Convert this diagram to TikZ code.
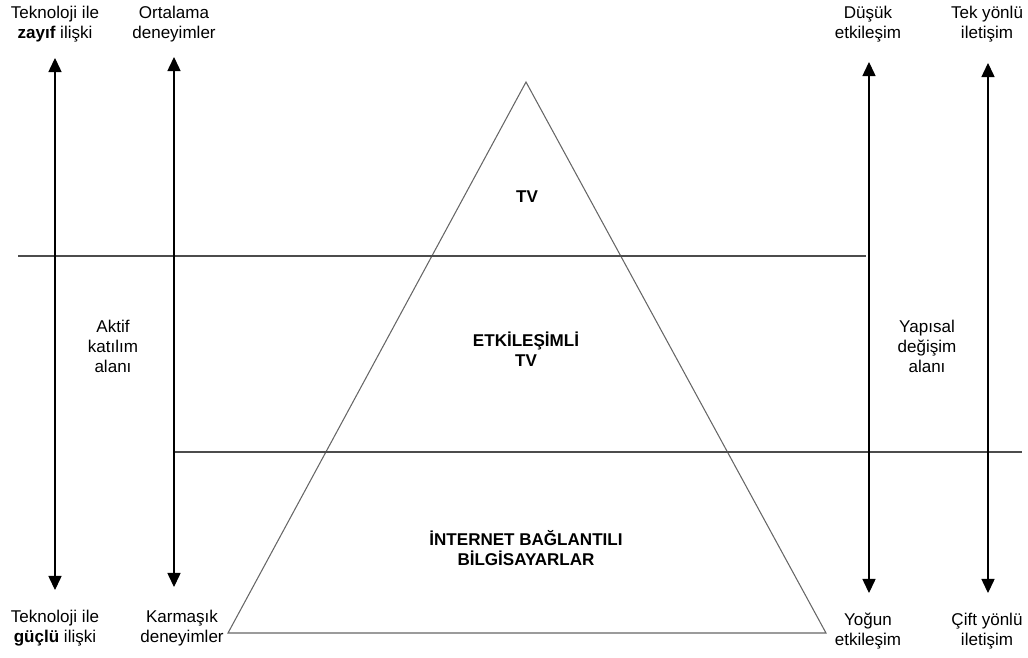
\documentclass[tikz,border=0pt]{standalone}
\usepackage{fontspec}
\setmainfont{Liberation Sans}
\usetikzlibrary{arrows.meta}

\begin{document}
\begin{tikzpicture}[x=0.02cm, y=-0.02cm, font=\fontsize{9.7}{11.4}\selectfont]
	\tikzset{
		txt/.style={align=center, inner sep=0pt},
		head/.style={txt, font=\fontsize{9.7}{11.4}\selectfont\bfseries},
		axis/.style={{Triangle[length=8pt, width=7.5pt]}-{Triangle[length=8pt, width=7.5pt]}, line width=0.6pt},
		rule/.style={line width=0.6pt, black!70},
	}
	\useasboundingbox (0, 0) rectangle (1028, 657);

	% pyramid
	\coordinate (apex) at (526, 82);
	\coordinate (baseL) at (228, 633);
	\coordinate (baseR) at (826, 633);
	\draw[rule, black!60] (apex) -- (baseL) -- (baseR) -- cycle;

	% horizontal rules
	\coordinate (r1L) at (18, 256);
	\coordinate (r1R) at (866, 256);
	\coordinate (r2L) at (174, 452);
	\coordinate (r2R) at (1022, 452);
	\draw[rule] (r1L) -- (r1R);
	\draw[rule] (r2L) -- (r2R);

	% scales
	\coordinate (techT) at (55, 58);
	\coordinate (techB) at (55, 590);
	\coordinate (expT) at (174, 57);
	\coordinate (expB) at (174, 587);
	\coordinate (interT) at (869, 62);
	\coordinate (interB) at (869, 593);
	\coordinate (commT) at (988, 63);
	\coordinate (commB) at (988, 593);
	\draw[axis] (techT) -- (techB);
	\draw[axis] (expT) -- (expB);
	\draw[axis] (interT) -- (interB);
	\draw[axis] (commT) -- (commB);

	% labels
	\node[txt] (techweak) at (55, 24) {Teknoloji ile\\{\bfseries zayıf} ilişki};
	\node[txt] (expavg) at (174, 24) {Ortalama\\deneyimler};
	\node[txt] (interlow) at (868, 24) {Düşük\\etkileşim};
	\node[txt] (commone) at (987, 24) {Tek yönlü\\iletişim};

	\node[txt] (techstrong) at (55, 628) {Teknoloji ile\\{\bfseries güçlü} ilişki};
	\node[txt] (expcomplex) at (182, 628) {Karmaşık\\deneyimler};
	\node[txt] (interhigh) at (868, 631) {Yoğun\\etkileşim};
	\node[txt] (commtwo) at (987, 631) {Çift yönlü\\iletişim};

	\node[txt] (active) at (113, 346) {Aktif\\katılım\\alanı};
	\node[txt] (struct) at (927, 346) {Yapısal\\değişim\\alanı};

	\node[head] (tv) at (527, 197) {TV};
	\node[head] (itv) at (526, 349) {ETKİLEŞİMLİ\\TV};
	\node[head] (pc) at (526, 548) {İNTERNET BAĞLANTILI\\BİLGİSAYARLAR};
\end{tikzpicture}
\end{document}
